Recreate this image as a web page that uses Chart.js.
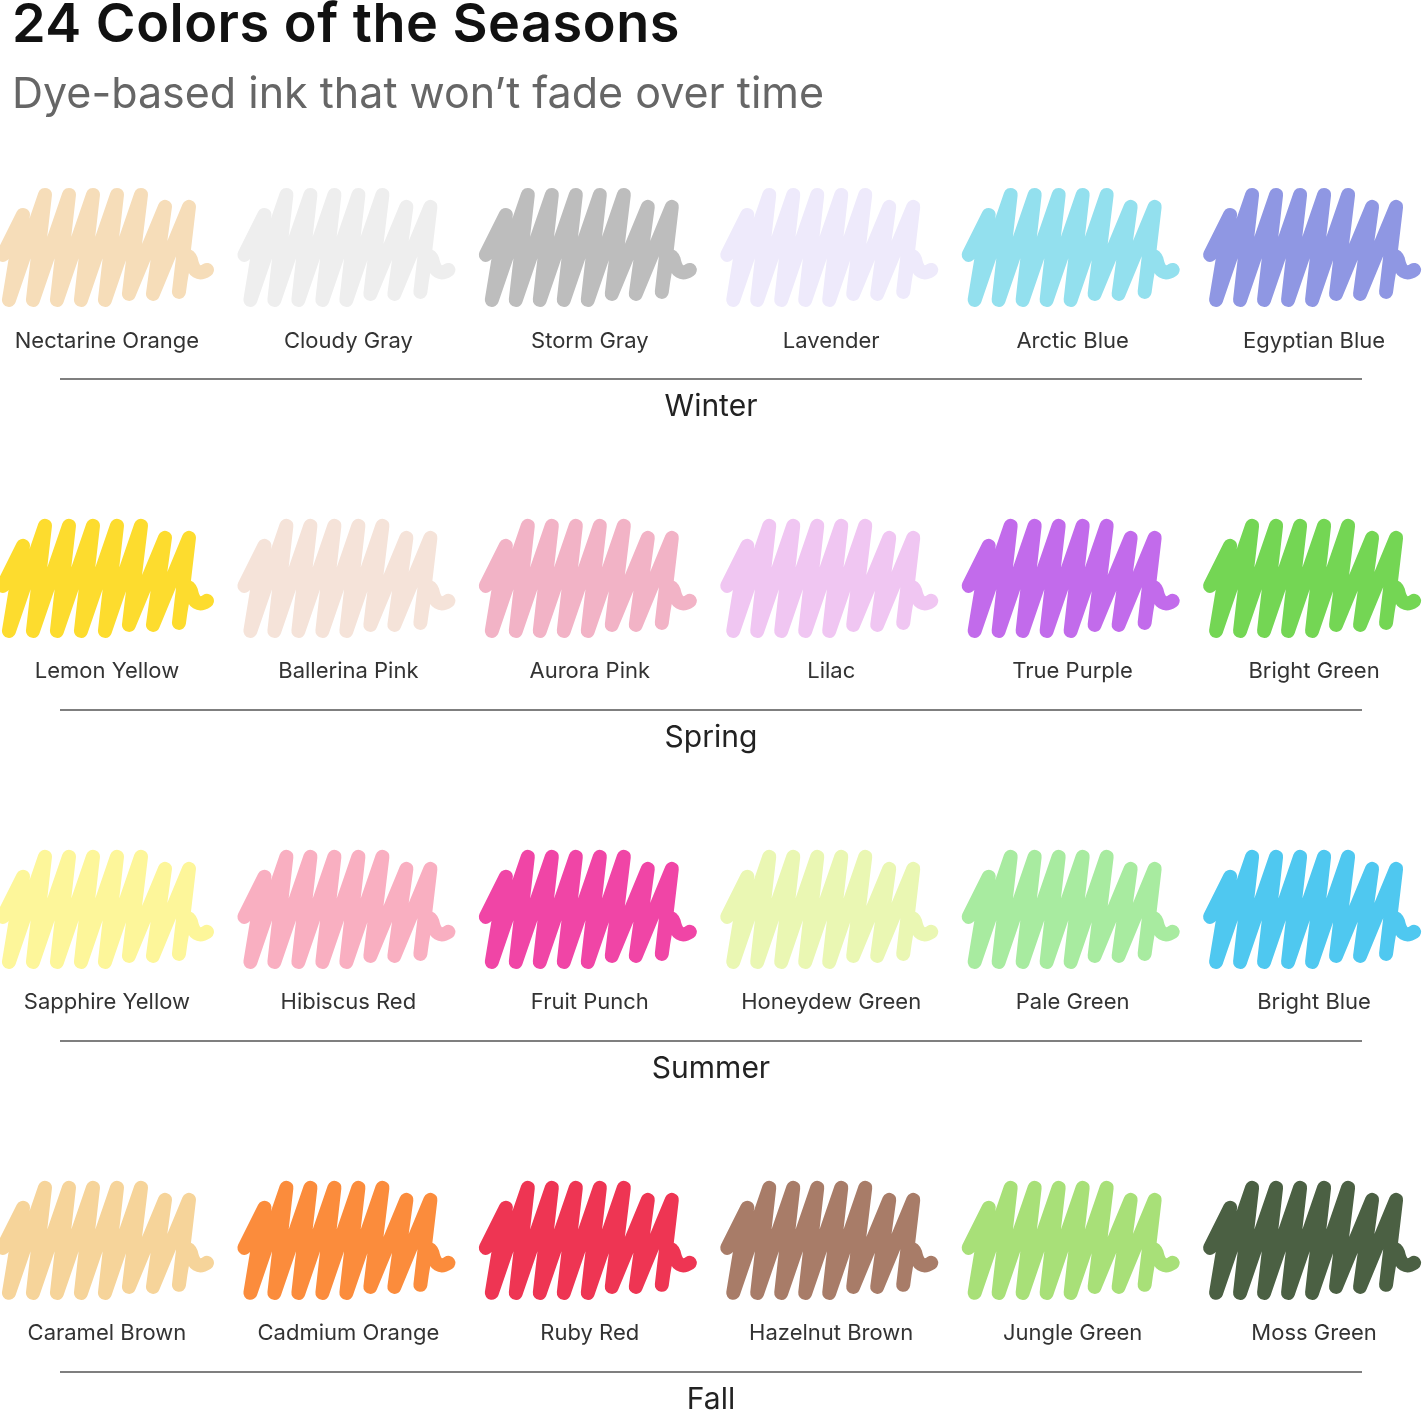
<!DOCTYPE html>
<html><head><meta charset="utf-8">
<script src="https://cdn.jsdelivr.net/npm/chart.js@4"></script>
<style>
html,body{margin:0;padding:0;background:#fff;width:1428px;height:1412px;overflow:hidden}
#wrap{position:absolute;left:0;top:0;width:1428px;height:1412px}
h1{position:absolute;left:12px;top:-10px;margin:0;font-size:54px;font-weight:600;color:#111;font-family:Inter,sans-serif;letter-spacing:0.5px}
h2{position:absolute;left:12px;top:66px;margin:0;font-size:43px;font-weight:400;color:#666;font-family:Inter,sans-serif}
</style></head><body>
<div id="wrap"><canvas id="c" width="1428" height="1412"></canvas></div>
<h1>24 Colors of the Seasons</h1>
<h2>Dye-based ink that won’t fade over time</h2>
<script>
const seasons = ["Winter","Spring","Summer","Fall"];
const colorNames = [
 ["Nectarine Orange","Cloudy Gray","Storm Gray","Lavender","Arctic Blue","Egyptian Blue"],
 ["Lemon Yellow","Ballerina Pink","Aurora Pink","Lilac","True Purple","Bright Green"],
 ["Sapphire Yellow","Hibiscus Red","Fruit Punch","Honeydew Green","Pale Green","Bright Blue"],
 ["Caramel Brown","Cadmium Orange","Ruby Red","Hazelnut Brown","Jungle Green","Moss Green"]
];
const inkColors = [
 ["#F6DDB9","#EEEEEE","#BDBDBD","#EEEAFB","#93E0EE","#8F97E3"],
 ["#FDDC2E","#F5E3D9","#F2B3C6","#F0C6F2","#C26BEB","#74D654"],
 ["#FDF69A","#F9AFC1","#F045A6","#EAF7B3","#A8EBA0","#4FC8F0"],
 ["#F6D49A","#FB8C3C","#EE3553","#A87C68","#A8E078","#4B6043"]
];

const points = [], pColors = [], pNames = [];
seasons.forEach((s, r) => colorNames[r].forEach((n, c) => {
  points.push({x: c, y: r}); pColors.push(inkColors[r][c]); pNames.push(n);
}));

function scribble(ctx, cx, cy, color) {
  ctx.save();
  ctx.strokeStyle = color; ctx.lineWidth = 14; ctx.lineCap = "round"; ctx.lineJoin = "round";
  ctx.beginPath();
  const top = cy - 55, bot = cy + 50;
  let b = cx - 104;
  ctx.moveTo(b, cy + 5);
  ctx.lineTo(b + 20, top + 20);
  b = cx - 98;
  for (let i = 0; i < 7; i++) {
    const t = i > 4 ? 12 : 0;
    ctx.lineTo(b, bot - t / 2);
    ctx.lineTo(b + 36, top + t);
    b += 24;
  }
  ctx.lineTo(b + 2, bot - 8);
  ctx.quadraticCurveTo(b + 8, cy - 5, b + 14, cy + 10);
  ctx.quadraticCurveTo(b + 18, cy + 28, b + 30, cy + 20);
  ctx.stroke();
  ctx.restore();
}

const drawPlugin = {
  id: "swatches",
  afterDatasetsDraw(chart) {
    const ctx = chart.ctx, xs = chart.scales.x, ys = chart.scales.y;
    points.forEach((p, i) => {
      const cx = xs.getPixelForValue(p.x), cy = ys.getPixelForValue(p.y);
      scribble(ctx, cx, cy, pColors[i]);
      ctx.save();
      ctx.fillStyle = "#333"; ctx.font = "22px Inter, sans-serif";
      ctx.textAlign = "center"; ctx.textBaseline = "middle";
      ctx.fillText(pNames[i], cx, cy + 91);
      ctx.restore();
    });
    seasons.forEach((s, r) => {
      const ly = ys.getPixelForValue(r + 0.39);
      ctx.save();
      ctx.strokeStyle = "#555"; ctx.lineWidth = 1.5;
      ctx.beginPath(); ctx.moveTo(60, ly); ctx.lineTo(1362, ly); ctx.stroke();
      ctx.fillStyle = "#222"; ctx.font = "30px Inter, sans-serif";
      ctx.textAlign = "center"; ctx.textBaseline = "middle";
      ctx.fillText(s, 711, ly + 28);
      ctx.restore();
    });
  }
};

new Chart(document.getElementById("c"), {
  type: "scatter",
  data: { datasets: [{ data: points, pointRadius: 0, showLine: false }] },
  options: {
    responsive: false, animation: false, devicePixelRatio: 1,
    layout: { padding: 0 },
    plugins: { legend: { display: false }, tooltip: { enabled: false } },
    scales: {
      x: { display: false, min: -0.443, max: 5.472 },
      y: { display: false, reverse: true, min: -0.755, max: 3.511 }
    }
  },
  plugins: [drawPlugin]
});
</script>
</body></html>
